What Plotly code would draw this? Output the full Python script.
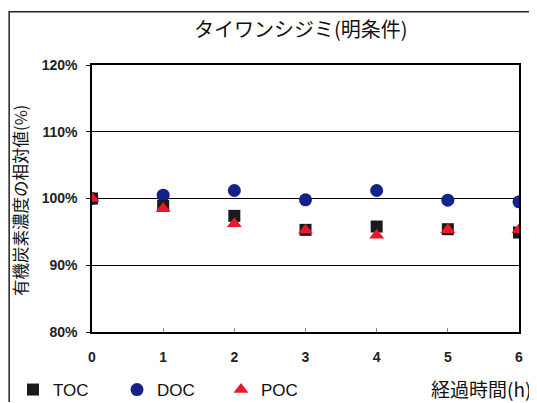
import plotly.graph_objects as go

hours = [0, 1, 2, 3, 4, 5, 6]
toc = [100.0, 98.9, 97.4, 95.3, 95.8, 95.4, 94.9]
doc = [100.0, 100.5, 101.2, 99.8, 101.2, 99.75, 99.5]
poc = [100.0, 98.5, 96.2, 95.25, 94.5, 95.3, 95.3]
y_ticks = [80, 90, 100, 110, 120]
y_ticktext = ["80%", "90%", "100%", "110%", "120%"]

jp = "Noto Sans CJK JP, sans-serif"
num = "Liberation Sans, Arial, sans-serif"

W, H = 528, 394

fig = go.Figure()
fig.add_trace(go.Scatter(x=hours, y=doc, mode="markers", name="DOC", legendrank=2,
                         marker=dict(symbol="circle", size=13, color="#14228a")))
fig.add_trace(go.Scatter(x=hours, y=toc, mode="markers", name="TOC", legendrank=1,
                         marker=dict(symbol="square", size=12, color="#1a1a1a")))
fig.add_trace(go.Scatter(x=hours, y=poc, mode="markers", name="POC", legendrank=3,
                         marker=dict(symbol="triangle-up", size=13, color="#e8192c")))

fig.update_layout(
    width=W, height=H,
    margin=dict(l=84, r=17, t=57, b=70, autoexpand=False),
    paper_bgcolor="white", plot_bgcolor="white",
    title=dict(text="タイワンシジミ(明条件)", xref="paper", x=0.489, xanchor="center",
               yref="container", y=1 - 22 / H, yanchor="middle",
               font=dict(family=jp, size=20, color="#111")),
    showlegend=True,
    legend=dict(orientation="h", xref="container", x=5 / W, xanchor="left",
                yref="container", y=1 - 382 / H, yanchor="middle",
                font=dict(family=num, size=17, color="#111"),
                entrywidth=59, entrywidthmode="pixels", itemsizing="trace",
                bgcolor="rgba(0,0,0,0)"),
    xaxis=dict(range=[0, 6], tickvals=hours, showgrid=False, zeroline=False,
               showline=True, linecolor="black", linewidth=1.5, mirror=True,
               ticks="inside", ticklen=4, tickcolor="#888",
               tickfont=dict(family=num, size=14, color="#222", weight="bold"),
               ticklabelstandoff=11),
    yaxis=dict(range=[80, 120], tickvals=y_ticks, ticktext=y_ticktext,
               showgrid=True, gridcolor="black", gridwidth=1.3, zeroline=False,
               showline=True, linecolor="black", linewidth=1.5, mirror=True,
               ticks="outside", ticklen=4, tickcolor="black",
               tickfont=dict(family=num, size=14, color="#222", weight="bold"),
               ticklabelstandoff=6),
)

fig.add_annotation(text="有機炭素濃度の相対値(%)", xref="paper", yref="paper",
                   x=-0.169, y=0.494, xanchor="center", yanchor="middle", textangle=-90,
                   showarrow=False, borderpad=0,
                   font=dict(family=jp, size=16.5, color="#111"))

fig.add_annotation(text="経過時間(h)", xref="paper", yref="paper", x=1.031, y=-0.21,
                   xanchor="right", yanchor="middle", showarrow=False, borderpad=0,
                   font=dict(family=jp, size=19, color="#111"))

fig.add_shape(type="rect", xref="paper", yref="paper", x0=-0.194, x1=1.056, y0=-0.6, y1=1.199,
              line=dict(color="#222", width=1.5), fillcolor="rgba(0,0,0,0)", layer="below")

fig.write_html("out.html")
